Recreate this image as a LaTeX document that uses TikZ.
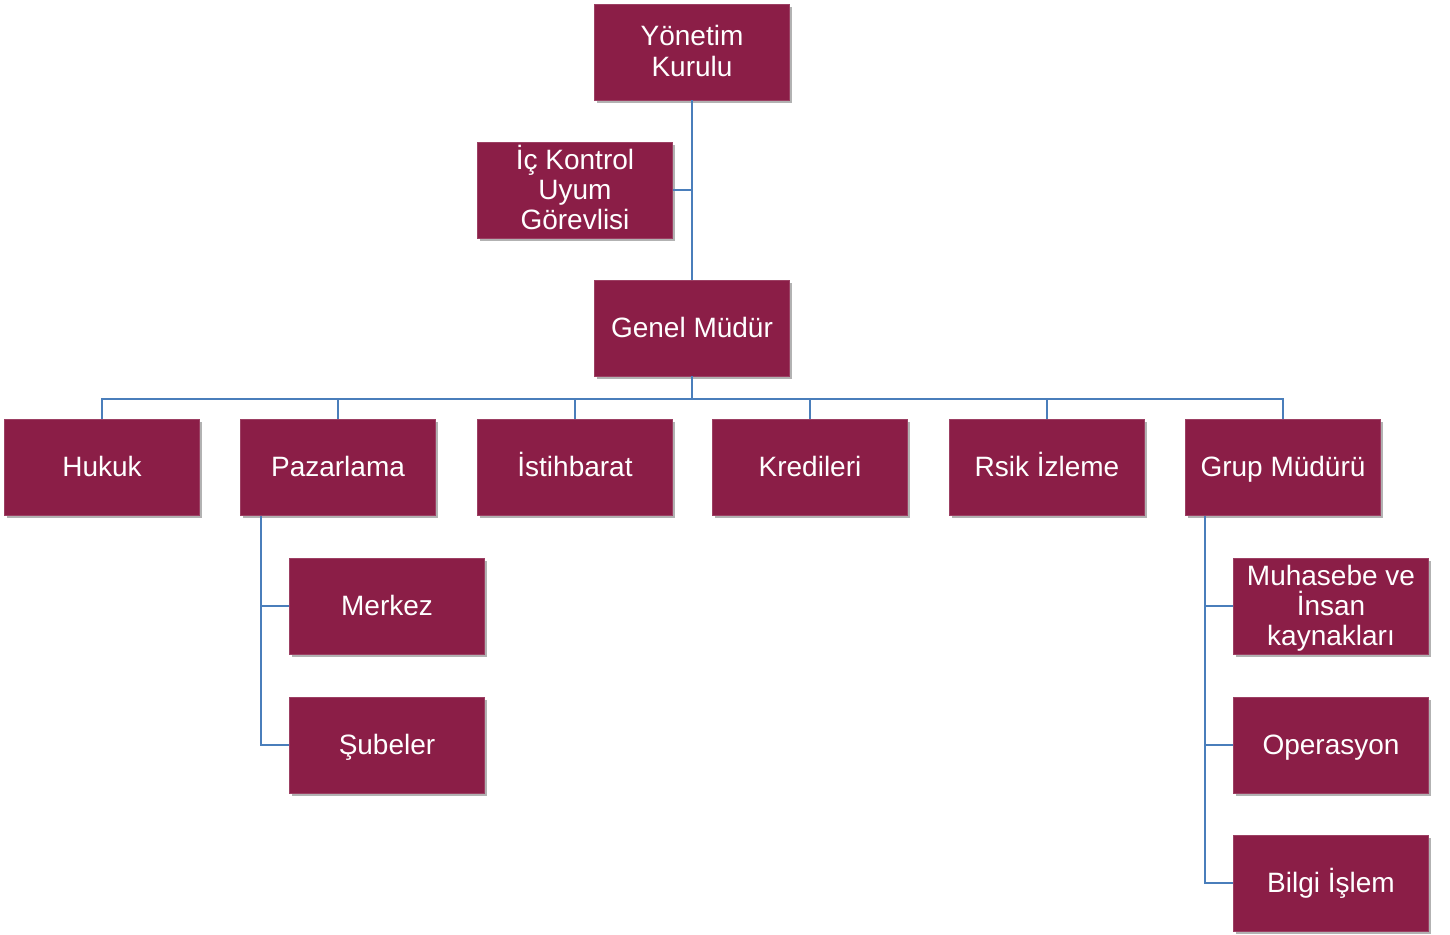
\documentclass[tikz,border=0pt]{standalone}
\usepackage{fontspec}
\setmainfont{Liberation Sans}
\usetikzlibrary{shadows}
\definecolor{boxred}{HTML}{8B1E47}
\definecolor{linkblue}{HTML}{4A7EBB}
\newcommand\ms{\rule[-6pt]{0pt}{30pt}}
\newcommand\unitfont{\fontsize{28}{30}\selectfont\lineskiplimit=-100pt\relax\lineskip=0pt\relax}
\begin{document}
\begin{tikzpicture}[x=1pt,y=-1pt,
  unit/.style={rectangle, fill=boxred, draw=boxred!85!white, line width=0.6pt,
    minimum width=195pt, minimum height=96pt, inner sep=2pt,
    text=white, align=center, font=\unitfont,
    drop shadow={shadow xshift=2pt, shadow yshift=-3pt, opacity=0.3, fill=black}},
  link/.style={draw=linkblue, line width=2pt}]
\useasboundingbox (0,0) rectangle (1450,934);
% nodes
\node[unit] (yk) at (692,52) {\ms Yönetim\\Kurulu\ms};
\node[unit] (ic) at (575,190) {\ms İç Kontrol\\Uyum\\Görevlisi\ms};
\node[unit] (gm) at (692,328) {\ms Genel Müdür};
\node[unit] (hu) at (102,467) {\ms Hukuk};
\node[unit] (pa) at (338,467) {\ms Pazarlama};
\node[unit] (is) at (575,467) {\ms İstihbarat};
\node[unit] (kr) at (810,467) {\ms Kredileri};
\node[unit] (ri) at (1047,467) {\ms Rsik İzleme};
\node[unit] (gr) at (1283,467) {\ms Grup Müdürü};
\node[unit] (me) at (387,606) {\ms Merkez};
\node[unit] (su) at (387,745) {\ms Şubeler};
\node[unit] (mu) at (1331,606) {\ms Muhasebe ve\\İnsan\\kaynakları\ms};
\node[unit] (op) at (1331,745) {\ms Operasyon};
\node[unit] (bi) at (1331,883) {\ms Bilgi İşlem};
% connectors
\coordinate (icj) at (692,190);
\coordinate (bus) at (692,399);
\draw[link] (yk.south) -- (gm.north);
\draw[link] (ic.east) -- (icj);
\draw[link] (gm.south) -- (bus);
\foreach \n in {hu,pa,is,kr,ri,gr}{
  \draw[link] (bus) -| (\n.north);
}
\coordinate (pav) at (261,516);
\draw[link] (pav) |- (me.west);
\draw[link] (pav) |- (su.west);
\coordinate (grv) at (1205,516);
\draw[link] (grv) |- (mu.west);
\draw[link] (grv) |- (op.west);
\draw[link] (grv) |- (bi.west);
\end{tikzpicture}
\end{document}
